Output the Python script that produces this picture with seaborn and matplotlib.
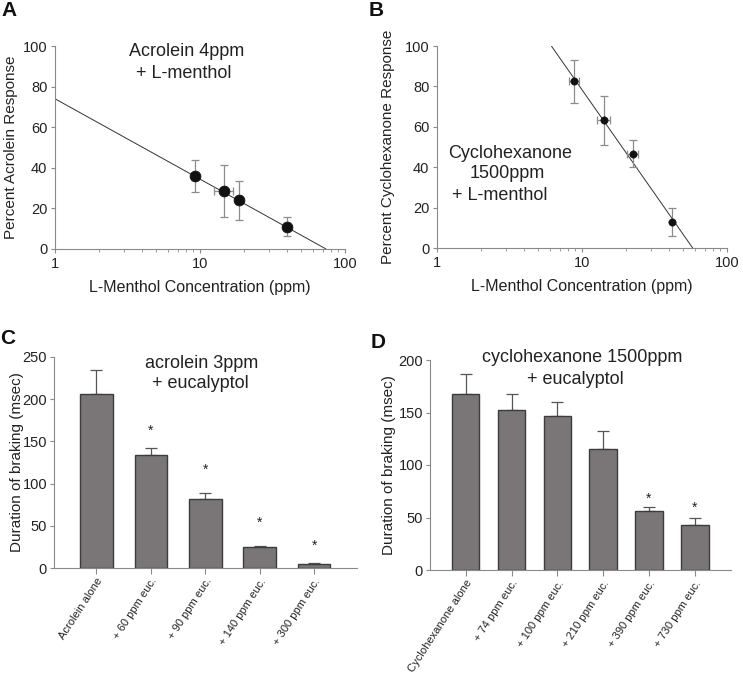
import numpy as np
import pandas as pd
import matplotlib
matplotlib.use("Agg")
import matplotlib.pyplot as plt
import seaborn as sns

# ---------------- data ----------------
# Panel A
a_conc = [9.3, 14.7, 18.5, 40.0]
a_resp = [36.0, 28.5, 24.0, 11.0]
a_yerr = [8.0, 12.8, 9.7, 4.8]
a_xerr_lo = [0.3, 2.2, 0.9, 0.0]
a_xerr_hi = [0.3, 2.3, 1.0, 0.0]
a_fit_x = [1.0, 74.0]
a_fit_y = [74.0, 0.0]

# Panel B
b_conc = [8.85, 14.1, 22.4, 42.0]
b_resp = [82.5, 63.2, 46.7, 13.0]
b_yerr = [10.7, 12.2, 6.7, 7.0]
b_xerr_lo = [0.75, 1.5, 2.0, 0.0]
b_xerr_hi = [0.75, 1.6, 2.0, 0.0]
b_fit_x = [6.15, 58.0]
b_fit_y = [100.0, 0.0]

# Panel C
c_labels = ["Acrolein alone", "+ 60 ppm euc.", "+ 90 ppm euc.", "+ 140 ppm euc.", "+ 300 ppm euc."]
c_vals = [206.0, 134.0, 81.5, 24.5, 4.5]
c_err = [28.5, 8.0, 7.0, 2.0, 1.8]
c_star = [None, 163.0, 116.0, 53.0, 26.0]

# Panel D
d_labels = ["Cyclohexanone alone", "+ 74 ppm euc.", "+ 100 ppm euc.", "+ 210 ppm euc.",
            "+ 390 ppm euc.", "+ 730 ppm euc."]
d_vals = [167.5, 152.0, 146.3, 115.2, 56.2, 42.5]
d_err = [19.5, 16.0, 13.4, 17.5, 3.5, 6.7]
d_star = [None, None, None, None, 68.0, 59.0]

# ---------------- style ----------------
sns.set_style("ticks")
plt.rcParams['font.family'] = ['Liberation Sans', 'DejaVu Sans']
plt.rcParams['axes.edgecolor'] = '#8a8a8a'
plt.rcParams['xtick.color'] = '#8a8a8a'
plt.rcParams['ytick.color'] = '#8a8a8a'
plt.rcParams['xtick.labelcolor'] = '#222222'
plt.rcParams['ytick.labelcolor'] = '#222222'
plt.rcParams['axes.labelcolor'] = '#222222'

W, H = 743, 678
fig = plt.figure(figsize=(W / 100, H / 100), dpi=100)


def px_axes(l, t, r, b):
    return fig.add_axes([l / W, 1 - b / H, (r - l) / W, (b - t) / H])


def ftext(x, y, s, **kw):
    fig.text(x / W, 1 - y / H, s, **kw)


axA = px_axes(55, 46, 345, 249)
axB = px_axes(437, 46, 727, 248)
axC = px_axes(54, 357, 357, 568)
axD = px_axes(430, 360, 731, 570)

TICK_FS = 10.5
LAB_FS = 11
err_col = '#8c8c8c'


def style_log(ax, ylabel):
    ax.set_xscale('log')
    ax.set_xlim(1, 100)
    ax.set_ylim(0, 100)
    ax.set_yticks([0, 20, 40, 60, 80, 100])
    ax.set_xticks([1, 10, 100])
    ax.set_xticklabels(['1', '10', '100'])
    ax.tick_params(axis='both', which='major', labelsize=TICK_FS, length=3, width=0.8, pad=2.5)
    ax.tick_params(axis='x', which='minor', length=2.5, width=0.6)
    ax.set_xlabel('L-Menthol Concentration (ppm)', fontsize=11.5, labelpad=7)
    ax.set_ylabel(ylabel, fontsize=LAB_FS)
    sns.despine(ax=ax)
    for s in ['left', 'bottom']:
        ax.spines[s].set_linewidth(0.8)


# Panel A
dfA = pd.DataFrame({'conc': a_conc, 'resp': a_resp})
sns.lineplot(x=a_fit_x, y=a_fit_y, ax=axA, color='#333333', linewidth=0.7)
axA.errorbar(a_conc, a_resp, yerr=a_yerr, xerr=[a_xerr_lo, a_xerr_hi], fmt='none',
             ecolor=err_col, elinewidth=0.9, capsize=3, capthick=0.9, zorder=3)
sns.scatterplot(data=dfA, x='conc', y='resp', ax=axA, color='#111111', s=60,
                edgecolor='#111111', zorder=4)
style_log(axA, 'Percent Acrolein Response')
axA.yaxis.set_label_coords(-0.128, 0.5)

# Panel B
dfB = pd.DataFrame({'conc': b_conc, 'resp': b_resp})
sns.lineplot(x=b_fit_x, y=b_fit_y, ax=axB, color='#333333', linewidth=0.7)
axB.errorbar(b_conc, b_resp, yerr=b_yerr, xerr=[b_xerr_lo, b_xerr_hi], fmt='none',
             ecolor=err_col, elinewidth=0.9, capsize=3, capthick=0.9, zorder=3)
sns.scatterplot(data=dfB, x='conc', y='resp', ax=axB, color='#111111', s=28,
                edgecolor='#111111', zorder=4)
style_log(axB, 'Percent Cyclohexanone Response')
axB.yaxis.set_label_coords(-0.145, 0.5)

TXT_FS = 13
ftext(187, 52, 'Acrolein 4ppm', fontsize=TXT_FS, ha='center', va='center', color='#222222')
ftext(184, 73, '+ L-menthol', fontsize=TXT_FS, ha='center', va='center', color='#222222')
ftext(510, 153, 'Cyclohexanone', fontsize=TXT_FS, ha='center', va='center', color='#222222')
ftext(507, 174, '1500ppm', fontsize=TXT_FS, ha='center', va='center', color='#222222')
ftext(500, 195, '+ L-menthol', fontsize=TXT_FS, ha='center', va='center', color='#222222')


def bar_panel(ax, labels, vals, errs, stars, ymax, ystep):
    df = pd.DataFrame({'cond': labels, 'val': vals})
    sns.barplot(data=df, x='cond', y='val', ax=ax, color='#7a7677', saturation=1,
                width=0.6, edgecolor='#3c3c3c', linewidth=1.0, errorbar=None, zorder=2)
    xs = np.arange(len(labels))
    ax.errorbar(xs, vals, yerr=[np.zeros(len(errs)), errs], fmt='none', ecolor='#555555',
                elinewidth=0.9, capsize=4, capthick=0.9, zorder=1)
    for x, s in zip(xs, stars):
        if s is not None:
            ax.text(x, s, '*', ha='center', va='center', fontsize=10, color='#222222')
    ax.set_xlim(-0.78, len(labels) - 1 + 0.79)
    ax.set_ylim(0, ymax)
    ax.set_yticks(np.arange(0, ymax + 1, ystep))
    ax.set_xlabel('')
    ax.set_ylabel('Duration of braking (msec)', fontsize=LAB_FS)
    ax.tick_params(axis='y', labelsize=TICK_FS, length=3, width=0.8, pad=2)
    ax.tick_params(axis='x', length=4, width=0.8, labelsize=8, pad=2)
    ax.set_xticks(xs)
    ax.set_xticklabels(labels, rotation=57, ha='right', rotation_mode='anchor')
    sns.despine(ax=ax)
    for s in ['left', 'bottom']:
        ax.spines[s].set_linewidth(0.8)


bar_panel(axC, c_labels, c_vals, c_err, c_star, 250, 50)
axC.yaxis.set_label_coords(-0.100, 0.5)
bar_panel(axD, d_labels, d_vals, d_err, d_star, 200, 50)
axD.yaxis.set_label_coords(-0.112, 0.5)

ftext(202, 363, 'acrolein 3ppm', fontsize=TXT_FS, ha='center', va='center', color='#222222')
ftext(200, 384, '+ eucalyptol', fontsize=TXT_FS, ha='center', va='center', color='#222222')
ftext(582, 357, 'cyclohexanone 1500ppm', fontsize=TXT_FS, ha='center', va='center', color='#222222')
ftext(575, 379, '+ eucalyptol', fontsize=TXT_FS, ha='center', va='center', color='#222222')

# panel letters
for x, y, s in [(9, 10, 'A'), (376, 10, 'B'), (8, 339, 'C'), (378, 342, 'D')]:
    ftext(x, y, s, fontsize=15, fontweight='bold', ha='center', va='center', color='#111111')

fig.savefig('out.png', dpi=100)
